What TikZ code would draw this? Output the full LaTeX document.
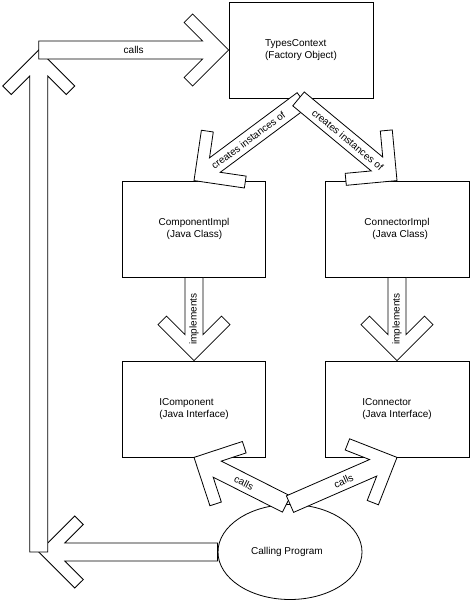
\documentclass[tikz,border=0pt]{standalone}
\usepackage{fontspec}
\setmainfont{Liberation Sans}
\usetikzlibrary{calc,shapes.geometric}
\tikzset{
  box/.style={draw, line width=0.8pt, rectangle, minimum width=144pt, minimum height=96pt,
    inner sep=0pt, align=left, font=\fontsize{10}{11.5}\selectfont},
  callerellipse/.style={draw, line width=0.8pt, ellipse, minimum width=144pt, minimum height=95pt,
    inner sep=0pt, font=\fontsize{10}{12}\selectfont},
  blockarrow/.style={draw=black, fill=white, line width=0.8pt, line join=miter},
  arrowlabel/.style={font=\fontsize{10}{12}\selectfont, inner sep=0pt},
}
% #1 = back end of the shaft, #2 = tip
\newcommand\blockarrow[2]{%
  \draw[blockarrow] (#2)
    -- ($(#2)!50.91pt!45:(#1)$)
    -- ($(#2)!52.32pt!31.72:(#1)$)
    -- ($(#2)!27.51pt!19.09:(#1)$)
    -- ($(#1)!9pt!-90:(#2)$)
    -- ($(#1)!9pt!90:(#2)$)
    -- ($(#2)!27.51pt!-19.09:(#1)$)
    -- ($(#2)!52.32pt!-31.72:(#1)$)
    -- ($(#2)!50.91pt!-45:(#1)$)
    -- cycle;
}
\begin{document}
\begin{tikzpicture}[x=1pt,y=-1pt]
\useasboundingbox (0,0) rectangle (471,602);
\fill[white] (0,0) rectangle (471,602);

\node[box] (tc) at (301,50) {TypesContext\\(Factory Object)};
\node[box, minimum width=143pt] (ci) at (194,229) {ComponentImpl\\\hspace*{8pt}(Java Class)};
\node[box] (cni) at (397,229) {ConnectorImpl\\\hspace*{8pt}(Java Class)};
\node[box, minimum width=143pt] (icomp) at (194,409) {IComponent\\(Java Interface)};
\node[box] (icon) at (397,409) {IConnector\\(Java Interface)};
\node[callerellipse] (cp) at (290,552) {Calling Program\hspace*{6pt}};

\coordinate (clback) at ($(tc.south)+(1.5,1.5)$);
\coordinate (crback) at ($(tc.south)+(-2.5,0.5)$);
\coordinate (callback) at ($(cp.north)+(-3.5,0)$);
\coordinate (c1) at (38.8,552);
\coordinate (c2) at (38.8,50);

% creates instances of
\blockarrow{clback}{ci.north}
\path (clback) -- (ci.north) node[arrowlabel, midway, sloped] {creates instances of};
\blockarrow{crback}{cni.north}
\path (crback) -- (cni.north) node[arrowlabel, midway, sloped] {creates instances of};

% implements
\blockarrow{ci.south}{icomp.north}
\path (ci.south) -- (icomp.north) node[arrowlabel, midway, rotate=90] {implements};
\blockarrow{cni.south}{icon.north}
\path (cni.south) -- (icon.north) node[arrowlabel, midway, rotate=90] {implements};

% calls from the calling program
\blockarrow{callback}{icomp.south}
\path (callback) -- (icomp.south) node[arrowlabel, pos=0.46, sloped] {calls};
\blockarrow{cp.north}{icon.south}
\path (cp.north) -- (icon.south) node[arrowlabel, pos=0.5, sloped] {calls};

% loop to the factory
\blockarrow{cp.west}{c1}
\blockarrow{c1}{c2}
\blockarrow{c2}{tc.west}
\path (c2) -- (tc.west) node[arrowlabel, midway] {calls};
\end{tikzpicture}
\end{document}
